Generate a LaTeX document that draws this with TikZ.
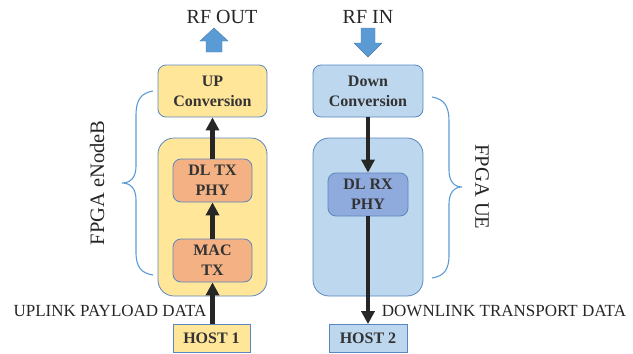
\documentclass[tikz,border=0pt]{standalone}
\usepackage{fontspec}
\setmainfont{Liberation Serif}
\usetikzlibrary{arrows.meta}
\definecolor{yfill}{HTML}{FFE699}
\definecolor{ofill}{HTML}{F4B183}
\definecolor{bfill}{HTML}{BDD7EE}
\definecolor{dfill}{HTML}{8FAADC}
\definecolor{edge}{HTML}{5B87C0}
\definecolor{arrowblue}{HTML}{5B9BD5}
\definecolor{dark}{HTML}{262626}
\definecolor{txt}{HTML}{333333}
\tikzset{
  box/.style={draw=edge, line width=0.8pt, rounded corners=8pt, align=center, inner sep=0pt,
    font=\fontsize{16}{20}\selectfont\bfseries, text=txt},
  outer/.style={draw=edge, line width=0.8pt, rounded corners=16pt, inner sep=0pt},
  hostbox/.style={draw=edge, line width=0.8pt, inner sep=0pt, align=center,
    font=\fontsize{16}{18}\selectfont\bfseries, text=txt},
  flow/.style={draw=dark, line width=4.5pt, -{Triangle[length=13pt,width=13pt]}},
  lbl/.style={font=\fontsize{17}{19}\selectfont, text=black!85},
  rflbl/.style={font=\fontsize{20}{22}\selectfont, text=black!85},
  sidelbl/.style={font=\fontsize{20.5}{22}\selectfont, text=black!85},
  bracestyle/.style={draw=arrowblue, line width=1.1pt},
  blockarrow/.style={fill=arrowblue, draw=arrowblue!80!black, line width=0.4pt}
}
\begin{document}
\begin{tikzpicture}[x=1pt,y=-1pt]
\useasboundingbox (0,0) rectangle (633,354);
% left column
\node[outer, fill=yfill, minimum width=109pt, minimum height=158pt] (eouter) at (212.5,217) {};
\node[box, fill=yfill, minimum width=109pt, minimum height=52pt] (upconv) at (212.5,91) {UP\\Conversion};
\node[box, fill=ofill, minimum width=79pt, minimum height=43pt] (dltx) at (212.5,180.5) {DL TX\\PHY};
\node[box, fill=ofill, minimum width=79pt, minimum height=43pt] (mac) at (212.5,260.5) {MAC\\TX};
\node[hostbox, fill=yfill, minimum width=77pt, minimum height=28pt] (host1) at (211.5,338.5) {HOST 1};
\draw[flow] (host1.north -| mac.south) -- (mac.south);
\draw[flow] (mac.north) -- (dltx.south);
\draw[flow] (dltx.north) -- (upconv.south);
\node[rflbl] (rfout) at (222,17) {RF OUT};
\fill[blockarrow] (206,52) -- (206,41) -- (200,41) -- (214,28) -- (228,41) -- (222,41) -- (222,52) -- cycle;
\node[lbl] (uplbl) at (110,311) {UPLINK PAYLOAD DATA};
\coordinate (lb1) at (153,91);
\coordinate (ltip) at (122,183);
\coordinate (lb2) at (153,275);
\draw[bracestyle] (lb1) .. controls (141,93) and (136,100) .. (136,115) -- (136,166)
  .. controls (136,177) and (131,183) .. (ltip)
  .. controls (131,183) and (136,189) .. (136,200) -- (136,252)
  .. controls (136,267) and (141,273) .. (lb2);
\node[sidelbl, rotate=90] (enb) at (97,183) {FPGA eNodeB};
% right column
\node[outer, fill=bfill, minimum width=110pt, minimum height=158pt] (uouter) at (368,217) {};
\node[box, fill=bfill, minimum width=110pt, minimum height=52pt] (downconv) at (368,91) {Down\\Conversion};
\node[box, fill=dfill, minimum width=80pt, minimum height=43pt] (dlrx) at (368,194.5) {DL RX\\PHY};
\node[hostbox, fill=bfill, minimum width=78pt, minimum height=28pt] (host2) at (368,338.5) {HOST 2};
\draw[flow] (downconv.south) -- (dlrx.north);
\draw[flow] (dlrx.south) -- (host2.north);
\node[rflbl] (rfin) at (368,17) {RF IN};
\fill[blockarrow] (361,28) -- (375,28) -- (375,43) -- (382,43) -- (368,57) -- (354,43) -- (361,43) -- cycle;
\node[lbl] (dnlbl) at (504,311) {DOWNLINK TRANSPORT DATA};
\coordinate (rb1) at (432,97);
\coordinate (rtip) at (462,187);
\coordinate (rb2) at (432,278);
\draw[bracestyle] (rb1) .. controls (444,99) and (449,106) .. (449,121) -- (449,170)
  .. controls (449,181) and (454,187) .. (rtip)
  .. controls (454,187) and (449,193) .. (449,204) -- (449,255)
  .. controls (449,270) and (444,276) .. (rb2);
\node[sidelbl, rotate=-90] (ue) at (482,187) {FPGA UE};
\end{tikzpicture}
\end{document}
